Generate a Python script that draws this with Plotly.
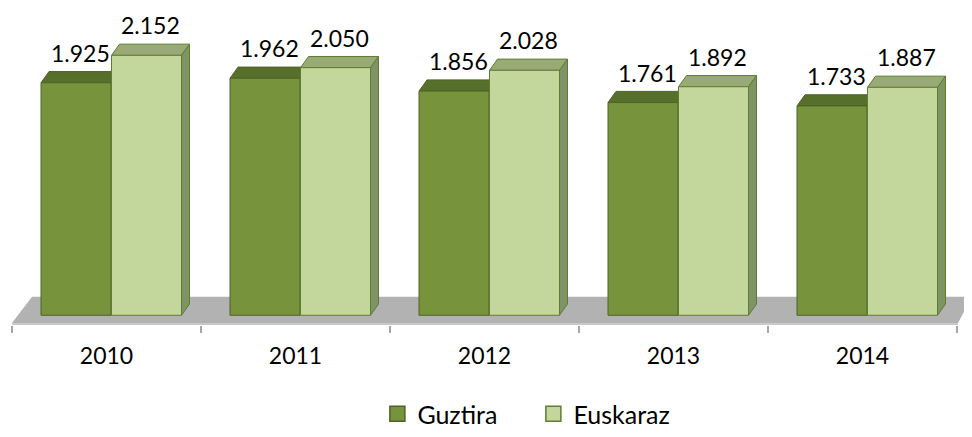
import plotly.graph_objects as go

years = ["2010", "2011", "2012", "2013", "2014"]
guztira = [1925, 1962, 1856, 1761, 1733]
euskaraz = [2152, 2050, 2028, 1892, 1887]
series_names = ["Guztira", "Euskaraz"]

# styling
DARK_FRONT = "#77933c"
DARK_TOP = "#566f2b"
DARK_SIDE = "#4f6228"
DARK_LINE = "#4f6228"
LIGHT_FRONT = "#c3d69b"
LIGHT_TOP = "#98ab76"
LIGHT_SIDE = "#7e9465"
LIGHT_LINE = "#5f7d30"
FONT = "Lato, 'Open Sans', sans-serif"

# the page body has an 8px margin, so the figure is laid out 8px smaller / shifted
OFS = 8
W, H = 972 - OFS, 437 - OFS
PLOT_H = 334 - OFS            # plot area height in px (top at 0)
BASE_PX = 324 - OFS           # px where value 0 sits
UPP = 8.05                    # value units per px
CAT_PX = 189.0                # px per category
X0 = -0.5 - (12 - OFS) / CAT_PX
X1 = 4.5 + 15 / CAT_PX
Y0 = -(PLOT_H - BASE_PX) * UPP
Y1 = BASE_PX * UPP

BW = 70 / CAT_PX                    # bar width
OFF_D = (41 - 106.5) / CAT_PX        # dark bar left offset from category center
OFF_L = (111.5 - 106.5) / CAT_PX     # light bar left offset
DX = 8 / CAT_PX                      # 3D depth in x
DY = 11.5 * UPP                      # 3D depth in y

xs = list(range(len(years)))

fig = go.Figure()

shapes = []
# floor
fy_front = -(332 - 324) * UPP
fy_back = (324 - 305) * UPP
fx_back_l = -0.5 + 20 / CAT_PX
fx_front_r = 4.5 + 1 / CAT_PX
shapes.append(dict(type="path", xref="x", yref="y", layer="below",
                   path=f"M {-0.5},{fy_front} L {fx_back_l},{fy_back} L {X1},{fy_back} L {fx_front_r},{fy_front} Z",
                   fillcolor="#b2b2b2", line=dict(width=0)))
shapes.append(dict(type="rect", xref="x", yref="y", layer="below",
                   x0=-0.5, x1=fx_front_r, y0=Y0, y1=fy_front,
                   fillcolor="#c9c9c9", line=dict(width=0)))


def faces(vals, off, top, side, lc):
    out = []
    for x, v in zip(xs, vals):
        xl = x + off
        xr = xl + BW
        out.append(dict(type="path", xref="x", yref="y", layer="below",
                        path=f"M {xl},{v} L {xr},{v} L {xr+DX},{v+DY} L {xl+DX},{v+DY} Z",
                        fillcolor=top, line=dict(color=lc, width=1)))
        out.append(dict(type="path", xref="x", yref="y", layer="below",
                        path=f"M {xr},0 L {xr},{v} L {xr+DX},{v+DY} L {xr+DX},{DY} Z",
                        fillcolor=side, line=dict(color=lc, width=1)))
    return out


shapes += faces(guztira, OFF_D, DARK_TOP, DARK_SIDE, DARK_LINE)
shapes += faces(euskaraz, OFF_L, LIGHT_TOP, LIGHT_SIDE, LIGHT_LINE)

fig.add_trace(go.Bar(x=xs, y=guztira, width=BW, offset=OFF_D,
                     marker=dict(color=DARK_FRONT, line=dict(color=DARK_LINE, width=1)),
                     showlegend=False, hoverinfo="skip"))
fig.add_trace(go.Bar(x=xs, y=euskaraz, width=BW, offset=OFF_L,
                     marker=dict(color=LIGHT_FRONT, line=dict(color=LIGHT_LINE, width=1)),
                     showlegend=False, hoverinfo="skip"))

# legend entries
for name, col, lc in [(series_names[0], DARK_FRONT, DARK_LINE), (series_names[1], LIGHT_FRONT, LIGHT_LINE)]:
    fig.add_trace(go.Scatter(x=[None], y=[None], mode="markers", name=name,
                             marker=dict(symbol="square", size=15, color=col, line=dict(color=lc, width=1.5))))

annotations = []
for vals, off in [(guztira, OFF_D), (euskaraz, OFF_L)]:
    for x, v in zip(xs, vals):
        annotations.append(dict(x=x + off + BW / 2 + DX / 2, y=v, xref="x", yref="y",
                                text=f"{v:,}".replace(",", "."), showarrow=False,
                                yanchor="middle", yshift=30,
                                font=dict(family=FONT, size=23, color="#000000")))

fig.update_layout(
    width=W, height=H,
    margin=dict(l=0, r=0, t=0, b=H - PLOT_H, pad=0),
    paper_bgcolor="white", plot_bgcolor="white",
    barmode="overlay",
    shapes=shapes, annotations=annotations,
    font=dict(family=FONT, size=23, color="#000000"),
    showlegend=True,
    legend=dict(orientation="h", x=0.545, xanchor="center", y=-0.209, yanchor="top",
                font=dict(family=FONT, size=25, color="#000000"),
                itemwidth=30, entrywidth=111),
    xaxis=dict(range=[X0, X1], tickvals=xs, ticktext=years, showgrid=False, zeroline=False,
               showline=False, ticks="outside", ticklen=10, tickcolor="rgba(0,0,0,0)",
               tickfont=dict(family=FONT, size=23, color="#000000"),
               minor=dict(tickvals=[i - 0.5 for i in range(len(years) + 1)], ticks="outside",
                          ticklen=7, tickwidth=1.5, tickcolor="#a6a6a6", showgrid=False)),
    yaxis=dict(range=[Y0, Y1], visible=False, showgrid=False, zeroline=False),
)

fig.write_html("out.html")
